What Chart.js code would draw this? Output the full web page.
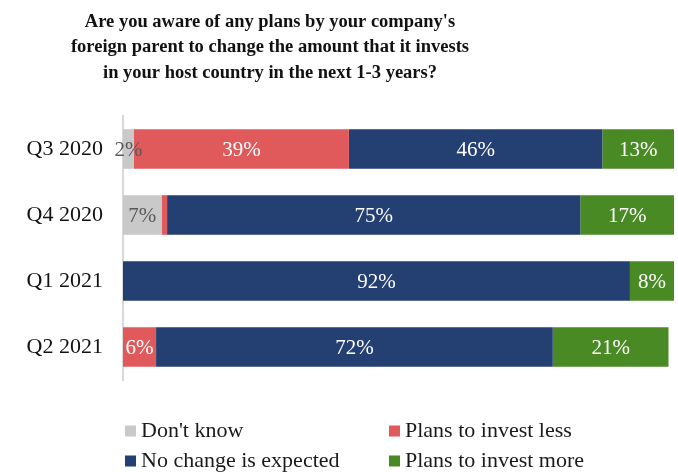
<!DOCTYPE html>
<html>
<head>
<meta charset="utf-8">
<script src="https://cdn.jsdelivr.net/npm/chart.js@4/dist/chart.umd.min.js"></script>
<style>
  body { margin: 0; background: #fff; }
</style>
</head>
<body>
<canvas id="chart" width="678" height="472"></canvas>
<script>
const categories = ['Q3 2020', 'Q4 2020', 'Q1 2021', 'Q2 2021'];
const dontKnow = [2, 7, 0, 0];
const investLess = [39, 1, 0, 6];
const noChange = [46, 75, 92, 72];
const investMore = [13, 17, 8, 21];

const seriesNames = ["Don't know", 'Plans to invest less', 'No change is expected', 'Plans to invest more'];
const titleLines = [
  "Are you aware of any plans by your company's",
  'foreign parent to change the amount that it invests',
  'in your host country in the next 1-3 years?'
];

const SERIF = '"Liberation Serif", "Times New Roman", serif';

// title drawn by hand so it can sit left of centre
const titlePlugin = {
  id: 'titleText',
  afterDraw(chart) {
    const ctx = chart.ctx;
    ctx.save();
    ctx.font = 'bold 18.5px ' + SERIF;
    ctx.fillStyle = '#111';
    ctx.textAlign = 'center';
    ctx.textBaseline = 'middle';
    titleLines.forEach((line, i) => ctx.fillText(line, 270, 22 + i * 25.5));
    ctx.restore();
  }
};

// percent labels inside each segment
const valueLabels = {
  id: 'valueLabels',
  afterDatasetsDraw(chart) {
    const ctx = chart.ctx;
    ctx.save();
    ctx.font = '21px ' + SERIF;
    ctx.textAlign = 'center';
    ctx.textBaseline = 'middle';
    chart.data.datasets.forEach((ds, di) => {
      const meta = chart.getDatasetMeta(di);
      meta.data.forEach((bar, i) => {
        const v = ds.data[i];
        if (v < 2) return;
        ctx.fillStyle = di === 0 ? '#595959' : '#fff';
        ctx.fillText(v + '%', (bar.x + bar.base) / 2, bar.y + 1);
      });
    });
    ctx.restore();
  }
};

// two-column legend under the bars
const legendBox = {
  id: 'legendBox',
  afterDraw(chart) {
    const ctx = chart.ctx;
    const cols = [125, 389];
    const rows = [431, 461];
    ctx.save();
    ctx.font = '22px ' + SERIF;
    ctx.textBaseline = 'middle';
    ctx.textAlign = 'left';
    chart.data.datasets.forEach((ds, i) => {
      const x = cols[i % 2];
      const y = rows[Math.floor(i / 2)];
      ctx.fillStyle = ds.backgroundColor;
      ctx.fillRect(x, y - 5.5, 11, 11);
      ctx.fillStyle = '#1a1a1a';
      ctx.fillText(ds.label, x + 16, y);
    });
    ctx.restore();
  }
};

const myChart = new Chart('chart', {
  type: 'bar',
  data: {
    labels: categories,
    datasets: [
      { label: seriesNames[0], data: dontKnow, backgroundColor: '#c9c9c9' },
      { label: seriesNames[1], data: investLess, backgroundColor: '#e05a5c' },
      { label: seriesNames[2], data: noChange, backgroundColor: '#243f72' },
      { label: seriesNames[3], data: investMore, backgroundColor: '#498a24' }
    ]
  },
  options: {
    indexAxis: 'y',
    responsive: false,
    animation: false,
    categoryPercentage: 1,
    barPercentage: 0.6,
    layout: { padding: { top: 116, right: 4, bottom: 92, left: 0 } },
    plugins: {
      legend: { display: false },
      title: { display: false },
      tooltip: { enabled: false }
    },
    scales: {
      x: { stacked: true, min: 0, max: 100, display: false },
      y: {
        stacked: true,
        grid: { display: false, drawTicks: false },
        border: { display: true, color: '#d9d9d9', width: 2 },
        ticks: { color: '#111', padding: 20, font: { family: SERIF, size: 22 } },
        afterFit(scale) { scale.width = 123; }
      }
    }
  },
  plugins: [titlePlugin, valueLabels, legendBox]
});
</script>
</body>
</html>
